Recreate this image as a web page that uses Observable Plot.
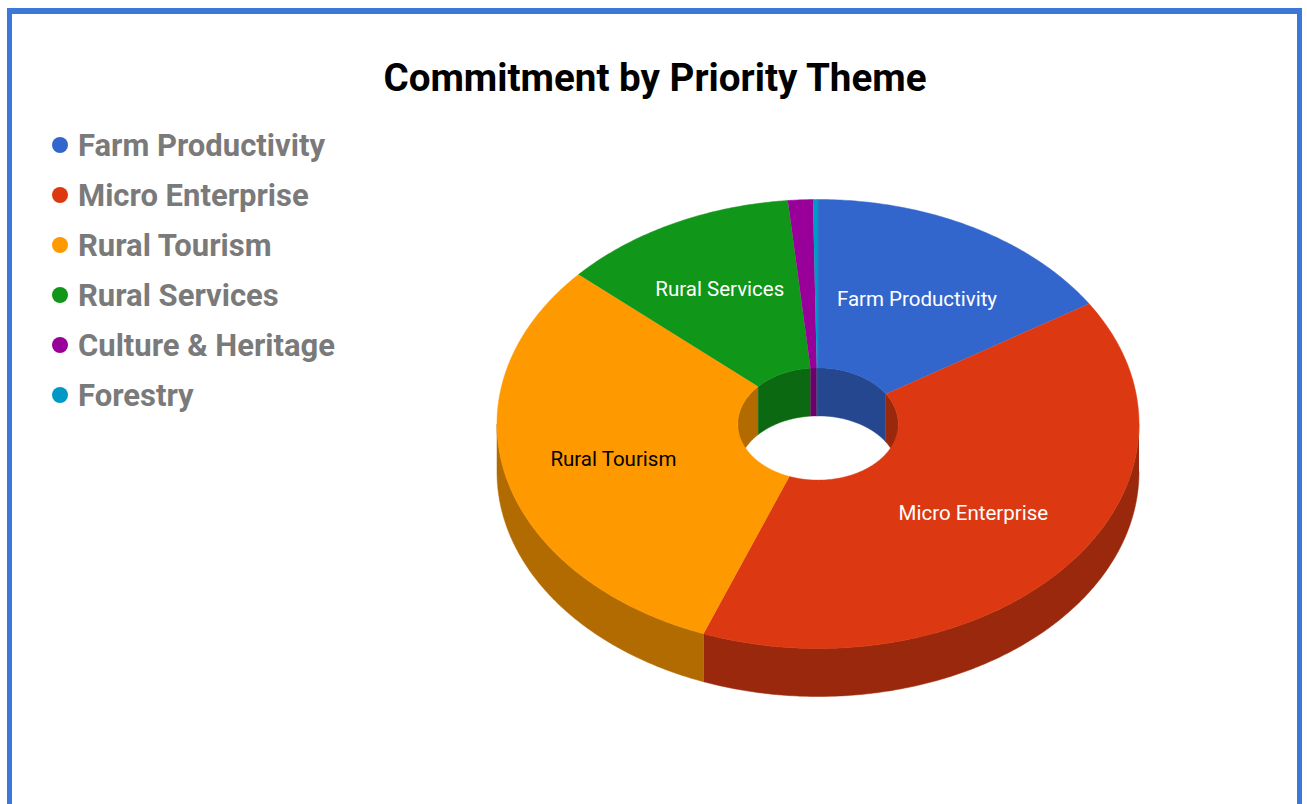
<!DOCTYPE html>
<html>
<head>
<meta charset="utf-8">
<script src="https://cdn.jsdelivr.net/npm/d3@7"></script>
<script src="https://cdn.jsdelivr.net/npm/@observablehq/plot@0.6"></script>
<style>
  html, body { margin: 0; padding: 0; background: #fff; overflow: hidden; height: 804px; font-family: Roboto, sans-serif; }
  #frame { position: absolute; left: 7px; top: 8px; width: 1295px; height: 796px; box-sizing: border-box;
           border: 5px solid #3c78d8; border-top-width: 6px; border-bottom: none; pointer-events: none; }
  #title { height: 120px; width: 1307px; box-sizing: border-box; padding-top: 53px; padding-left: 3px; text-align: center;
           font-size: 38.6px; line-height: 50px; font-weight: 700; color: #000; }
  #row { display: flex; width: 1307px; }
  #legend { width: 400px; flex: none; box-sizing: border-box; padding-left: 52px; }
  .item { height: 50px; display: flex; align-items: center; font-size: 31px; font-weight: 700; color: #7a7a7a; white-space: nowrap; }
  .dot { width: 16px; height: 16px; border-radius: 50%; margin-right: 10px; flex: none; }
  svg { display: block; }
</style>
</head>
<body>
<div id="frame"></div>
<div id="title">Commitment by Priority Theme</div>
<div id="row"><div id="legend"></div><div id="chart"></div></div>
<script>
const categories = ["Farm Productivity", "Micro Enterprise", "Rural Tourism", "Rural Services", "Culture & Heritage", "Forestry"];
const shares = [16.0, 39.8, 30.8, 11.9, 1.25, 0.25];
const topColors = ["#3366cc", "#dc3912", "#ff9900", "#109618", "#990099", "#0099c6"];
const sideColors = ["#24478f", "#9a280d", "#b26b00", "#0b6911", "#6b006b", "#006b8a"];
const labelColors = ["#ffffff", "#ffffff", "#000000", "#ffffff", null, null];
const labelRadius = [0.64, 0.625, 0.656, 0.678, 0, 0];

const HOLE = 0.25;     // inner radius as a share of the outer radius
const DEPTH = 0.2138;  // thickness of the disc, in y units

const total = d3.sum(shares);
const cum = d3.cumsum(shares);
const slices = categories.map((name, i) => ({
  name, i,
  a0: (i ? cum[i - 1] : 0) / total * 2 * Math.PI,
  a1: cum[i] / total * 2 * Math.PI
}));

const pt = (r, a, dy = 0) => [r * Math.sin(a), -r * Math.cos(a) + dy];
function arc(r, a0, a1, dy = 0) {
  const n = Math.max(2, Math.ceil(Math.abs(a1 - a0) / 0.01));
  return d3.range(n + 1).map(k => pt(r, a0 + (a1 - a0) * k / n, dy));
}
const rows = [];
function push(id, color, pts) {
  pts.forEach(([x, y]) => rows.push({id, color, x, y}));
}
// walls of the hole: only the far half can be seen
for (const s of slices) {
  for (const [lo, hi] of [[-Math.PI / 2, Math.PI / 2], [1.5 * Math.PI, 2.5 * Math.PI]]) {
    const a0 = Math.max(s.a0, lo), a1 = Math.min(s.a1, hi);
    if (a1 > a0) push(`hole-${s.i}-${lo}`, sideColors[s.i], [...arc(HOLE, a0, a1), ...arc(HOLE, a1, a0, DEPTH)]);
  }
}
// outer wall: only the near half can be seen
for (const s of slices) {
  const a0 = Math.max(s.a0, Math.PI / 2), a1 = Math.min(s.a1, 1.5 * Math.PI);
  if (a1 > a0) push(`side-${s.i}`, sideColors[s.i], [...arc(1, a0, a1), ...arc(1, a1, a0, DEPTH)]);
}
// top faces
for (const s of slices) {
  push(`top-${s.i}`, topColors[s.i], [...arc(1, s.a0, s.a1), ...arc(HOLE, s.a1, s.a0)]);
}
const labels = slices.filter(s => labelColors[s.i]).map(s => {
  const [x, y] = pt(labelRadius[s.i], (s.a0 + s.a1) / 2);
  return {x, y, name: s.name, color: labelColors[s.i]};
});

const legend = d3.select("#legend");
categories.forEach((name, i) => {
  const item = legend.append("div").attr("class", "item");
  item.append("span").attr("class", "dot").style("background", topColors[i]);
  item.append("span").text(name);
});

const plot = Plot.plot({
  width: 880,
  height: 684,
  margin: 0,
  x: {domain: [-1, 1], range: [96.5, 738.5], axis: null},
  y: {domain: [-1, 1], range: [79, 528], axis: null},
  color: {type: "identity"},
  marks: [
    Plot.line(rows, {x: "x", y: "y", z: "id", fill: "color", stroke: "color", strokeWidth: 0.5, curve: "linear"}),
    Plot.text(labels, {x: "x", y: "y", dy: 1, text: "name", fill: "color", fontSize: 20.5, fontFamily: "Roboto, sans-serif"})
  ]
});
document.getElementById("chart").append(plot);
</script>
</body>
</html>
